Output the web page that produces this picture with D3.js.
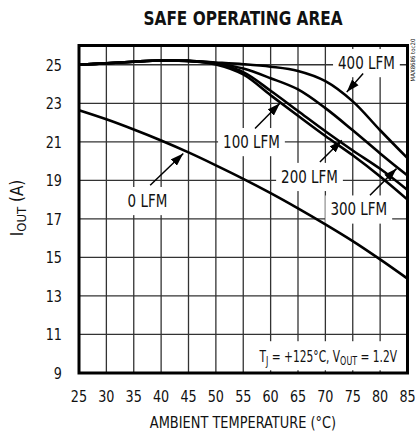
<!DOCTYPE html>
<meta charset="utf-8" />
<head>
  <style>
    body { margin: 0; background: #fff; }
    text { font-family: "Liberation Sans Narrow", "Arial Narrow", "DejaVu Sans Condensed", sans-serif; fill: #111; }
    .grid line { stroke: #333; stroke-width: 1.3; }
    .curve { fill: none; stroke: #000; stroke-width: 2.6; }
    .arrow { stroke: #000; stroke-width: 1.5; }
  </style>
  <script src="https://d3js.org/d3.v7.min.js"></script>
</head>
<body>
  <svg width="417" height="434"></svg>
  <script>
    // ambient temperature (°C) sample points
    const temps = [25, 30, 35, 40, 45, 50, 55, 60, 65, 70, 75, 80, 85];
    // IOUT (A) for each airflow
    const lfm0   = [22.64, 22.17, 21.64, 21.07, 20.45, 19.78, 19.08, 18.34, 17.55, 16.72, 15.85, 14.9, 13.9];
    const lfm100 = [25.0, 25.08, 25.16, 25.22, 25.2, 25.02, 24.5, 23.42, 22.35, 21.3, 20.3, 19.2, 18.0];
    const lfm200 = [25.0, 25.08, 25.16, 25.22, 25.2, 25.05, 24.62, 23.65, 22.6, 21.55, 20.55, 19.6, 18.5];
    const lfm300 = [25.0, 25.08, 25.16, 25.22, 25.2, 25.08, 24.8, 24.3, 23.72, 22.75, 21.6, 20.4, 19.25];
    const lfm400 = [25.0, 25.08, 25.16, 25.22, 25.2, 25.12, 25.03, 24.9, 24.68, 24.15, 23.1, 21.6, 20.15];

    const xTicks = [25, 30, 35, 40, 45, 50, 55, 60, 65, 70, 75, 80, 85];
    const yTicks = [9, 11, 13, 15, 17, 19, 21, 23, 25];

    // label text, label centre [temp, amps], arrow tail, arrow tip
    const labelNames = ["400 LFM", "100 LFM", "200 LFM", "300 LFM", "0 LFM"];
    const labelPos   = [[77.5, 25.1], [56.5, 21.0], [67.1, 19.19], [76.1, 17.5], [37.5, 17.94]];
    const arrowFrom  = [[76.9, 24.55], [57.15, 21.69], [69.0, 19.95], [78.15, 18.23], [38.0, 18.75]];
    const arrowTo    = [[73.9, 23.58], [61.7, 23.0], [73.0, 21.08], [83.0, 19.61], [44.05, 20.39]];

    const svg = d3.select("svg");
    const x = d3.scaleLinear().domain([25, 85]).range([79, 407.5]);
    const y = d3.scaleLinear().domain([9, 26]).range([373, 45.5]);

    // the reference uses a narrow face; squeeze the text horizontally
    function squeeze(sel, s) {
      sel.attr("transform", "scale(" + s + ",1)")
        .attr("x", function () { return +this.getAttribute("x") / s; });
    }

    svg.append("defs").append("marker")
      .attr("id", "head")
      .attr("viewBox", "0 0 12 8")
      .attr("refX", 12).attr("refY", 4)
      .attr("markerUnits", "userSpaceOnUse")
      .attr("markerWidth", 13).attr("markerHeight", 9)
      .attr("orient", "auto")
      .append("path").attr("d", "M0,0L12,4L0,8Z").attr("fill", "#000");

    // title
    svg.append("text")
      .attr("x", 243).attr("y", 25)
      .attr("text-anchor", "middle")
      .attr("textLength", 199).attr("lengthAdjust", "spacingAndGlyphs")
      .style("font-size", "20px").style("font-weight", "bold")
      .text("SAFE OPERATING AREA");

    // grid
    const grid = svg.append("g").attr("class", "grid");
    grid.selectAll(".v").data(xTicks.slice(1, -1)).enter().append("line")
      .attr("x1", d => x(d)).attr("x2", d => x(d))
      .attr("y1", y(26)).attr("y2", y(9));
    grid.selectAll(".h").data(yTicks.slice(1)).enter().append("line")
      .attr("x1", x(25)).attr("x2", x(85))
      .attr("y1", d => y(d)).attr("y2", d => y(d));

    // labels with white boxes behind them
    const labels = svg.append("g");
    const ls = 0.88;
    labelNames.forEach(function (name, i) {
      const t = labels.append("text")
        .attr("x", x(labelPos[i][0])).attr("y", y(labelPos[i][1]))
        .attr("dy", "0.36em")
        .attr("text-anchor", "middle")
        .style("font-size", "17px")
        .text(name);
      squeeze(t, ls);
      const b = t.node().getBBox();
      labels.insert("rect", () => t.node())
        .attr("x", b.x * ls - 5).attr("y", b.y - 4)
        .attr("width", b.width * ls + 10).attr("height", b.height + 8)
        .attr("fill", "#fff");
    });

    // condition note, bottom right
    const noteG = svg.append("g");
    const ns = 0.74;
    const note = noteG.append("text")
      .attr("x", 397).attr("y", 362)
      .attr("text-anchor", "end")
      .style("font-size", "16px");
    note.append("tspan").text("T");
    note.append("tspan").attr("dy", 3).style("font-size", "12px").text("J");
    note.append("tspan").attr("dy", -3).text(" = +125°C, V");
    note.append("tspan").attr("dy", 3).style("font-size", "12px").text("OUT");
    note.append("tspan").attr("dy", -3).text(" = 1.2V");
    squeeze(note, ns);
    const nb = note.node().getBBox();
    noteG.insert("rect", () => note.node())
      .attr("x", nb.x * ns - 6).attr("y", nb.y - 6)
      .attr("width", nb.width * ns + 12).attr("height", nb.height + 9)
      .attr("fill", "#fff");

    // curves
    const line = d3.line()
      .x((d, i) => x(temps[i]))
      .y(d => y(d))
      .curve(d3.curveCatmullRom.alpha(0.5));
    svg.selectAll(".curve")
      .data([lfm0, lfm100, lfm200, lfm300, lfm400])
      .enter().append("path")
      .attr("class", "curve")
      .attr("d", line);

    // arrows
    svg.selectAll(".arrow").data(arrowFrom).enter().append("line")
      .attr("class", "arrow")
      .attr("x1", d => x(d[0])).attr("y1", d => y(d[1]))
      .attr("x2", (d, i) => x(arrowTo[i][0])).attr("y2", (d, i) => y(arrowTo[i][1]))
      .attr("marker-end", "url(#head)");

    // frame
    svg.append("rect")
      .attr("x", x(25)).attr("y", y(26))
      .attr("width", x(85) - x(25)).attr("height", y(9) - y(26))
      .attr("fill", "none").attr("stroke", "#000").attr("stroke-width", 3);

    // tick labels
    const ts = 0.86;
    svg.selectAll(".xt").data(xTicks).enter().append("text")
      .attr("class", "xt")
      .attr("x", d => x(d)).attr("y", 402)
      .attr("text-anchor", "middle")
      .style("font-size", "16.5px")
      .text(d => d)
      .call(squeeze, ts);
    svg.selectAll(".yt").data(yTicks).enter().append("text")
      .attr("class", "yt")
      .attr("x", 62).attr("y", d => y(d))
      .attr("dy", "0.36em")
      .attr("text-anchor", "end")
      .style("font-size", "16.5px")
      .text(d => d)
      .call(squeeze, ts);

    // axis titles
    svg.append("text")
      .attr("x", 243).attr("y", 428)
      .attr("text-anchor", "middle")
      .style("font-size", "16px")
      .text("AMBIENT TEMPERATURE (°C)")
      .call(squeeze, 0.9);
    const yt = svg.append("text")
      .attr("transform", "translate(23,208) rotate(-90)")
      .attr("text-anchor", "middle")
      .style("font-size", "17px");
    yt.append("tspan").text("I");
    yt.append("tspan").attr("dy", 3).style("font-size", "13px").text("OUT");
    yt.append("tspan").attr("dy", -3).text(" (A)");

    // part tag
    svg.append("text")
      .attr("transform", "translate(415,60) rotate(-90)")
      .attr("text-anchor", "middle")
      .style("font-size", "6px")
      .text("MAX8686 toc20");
  </script>
</body>
